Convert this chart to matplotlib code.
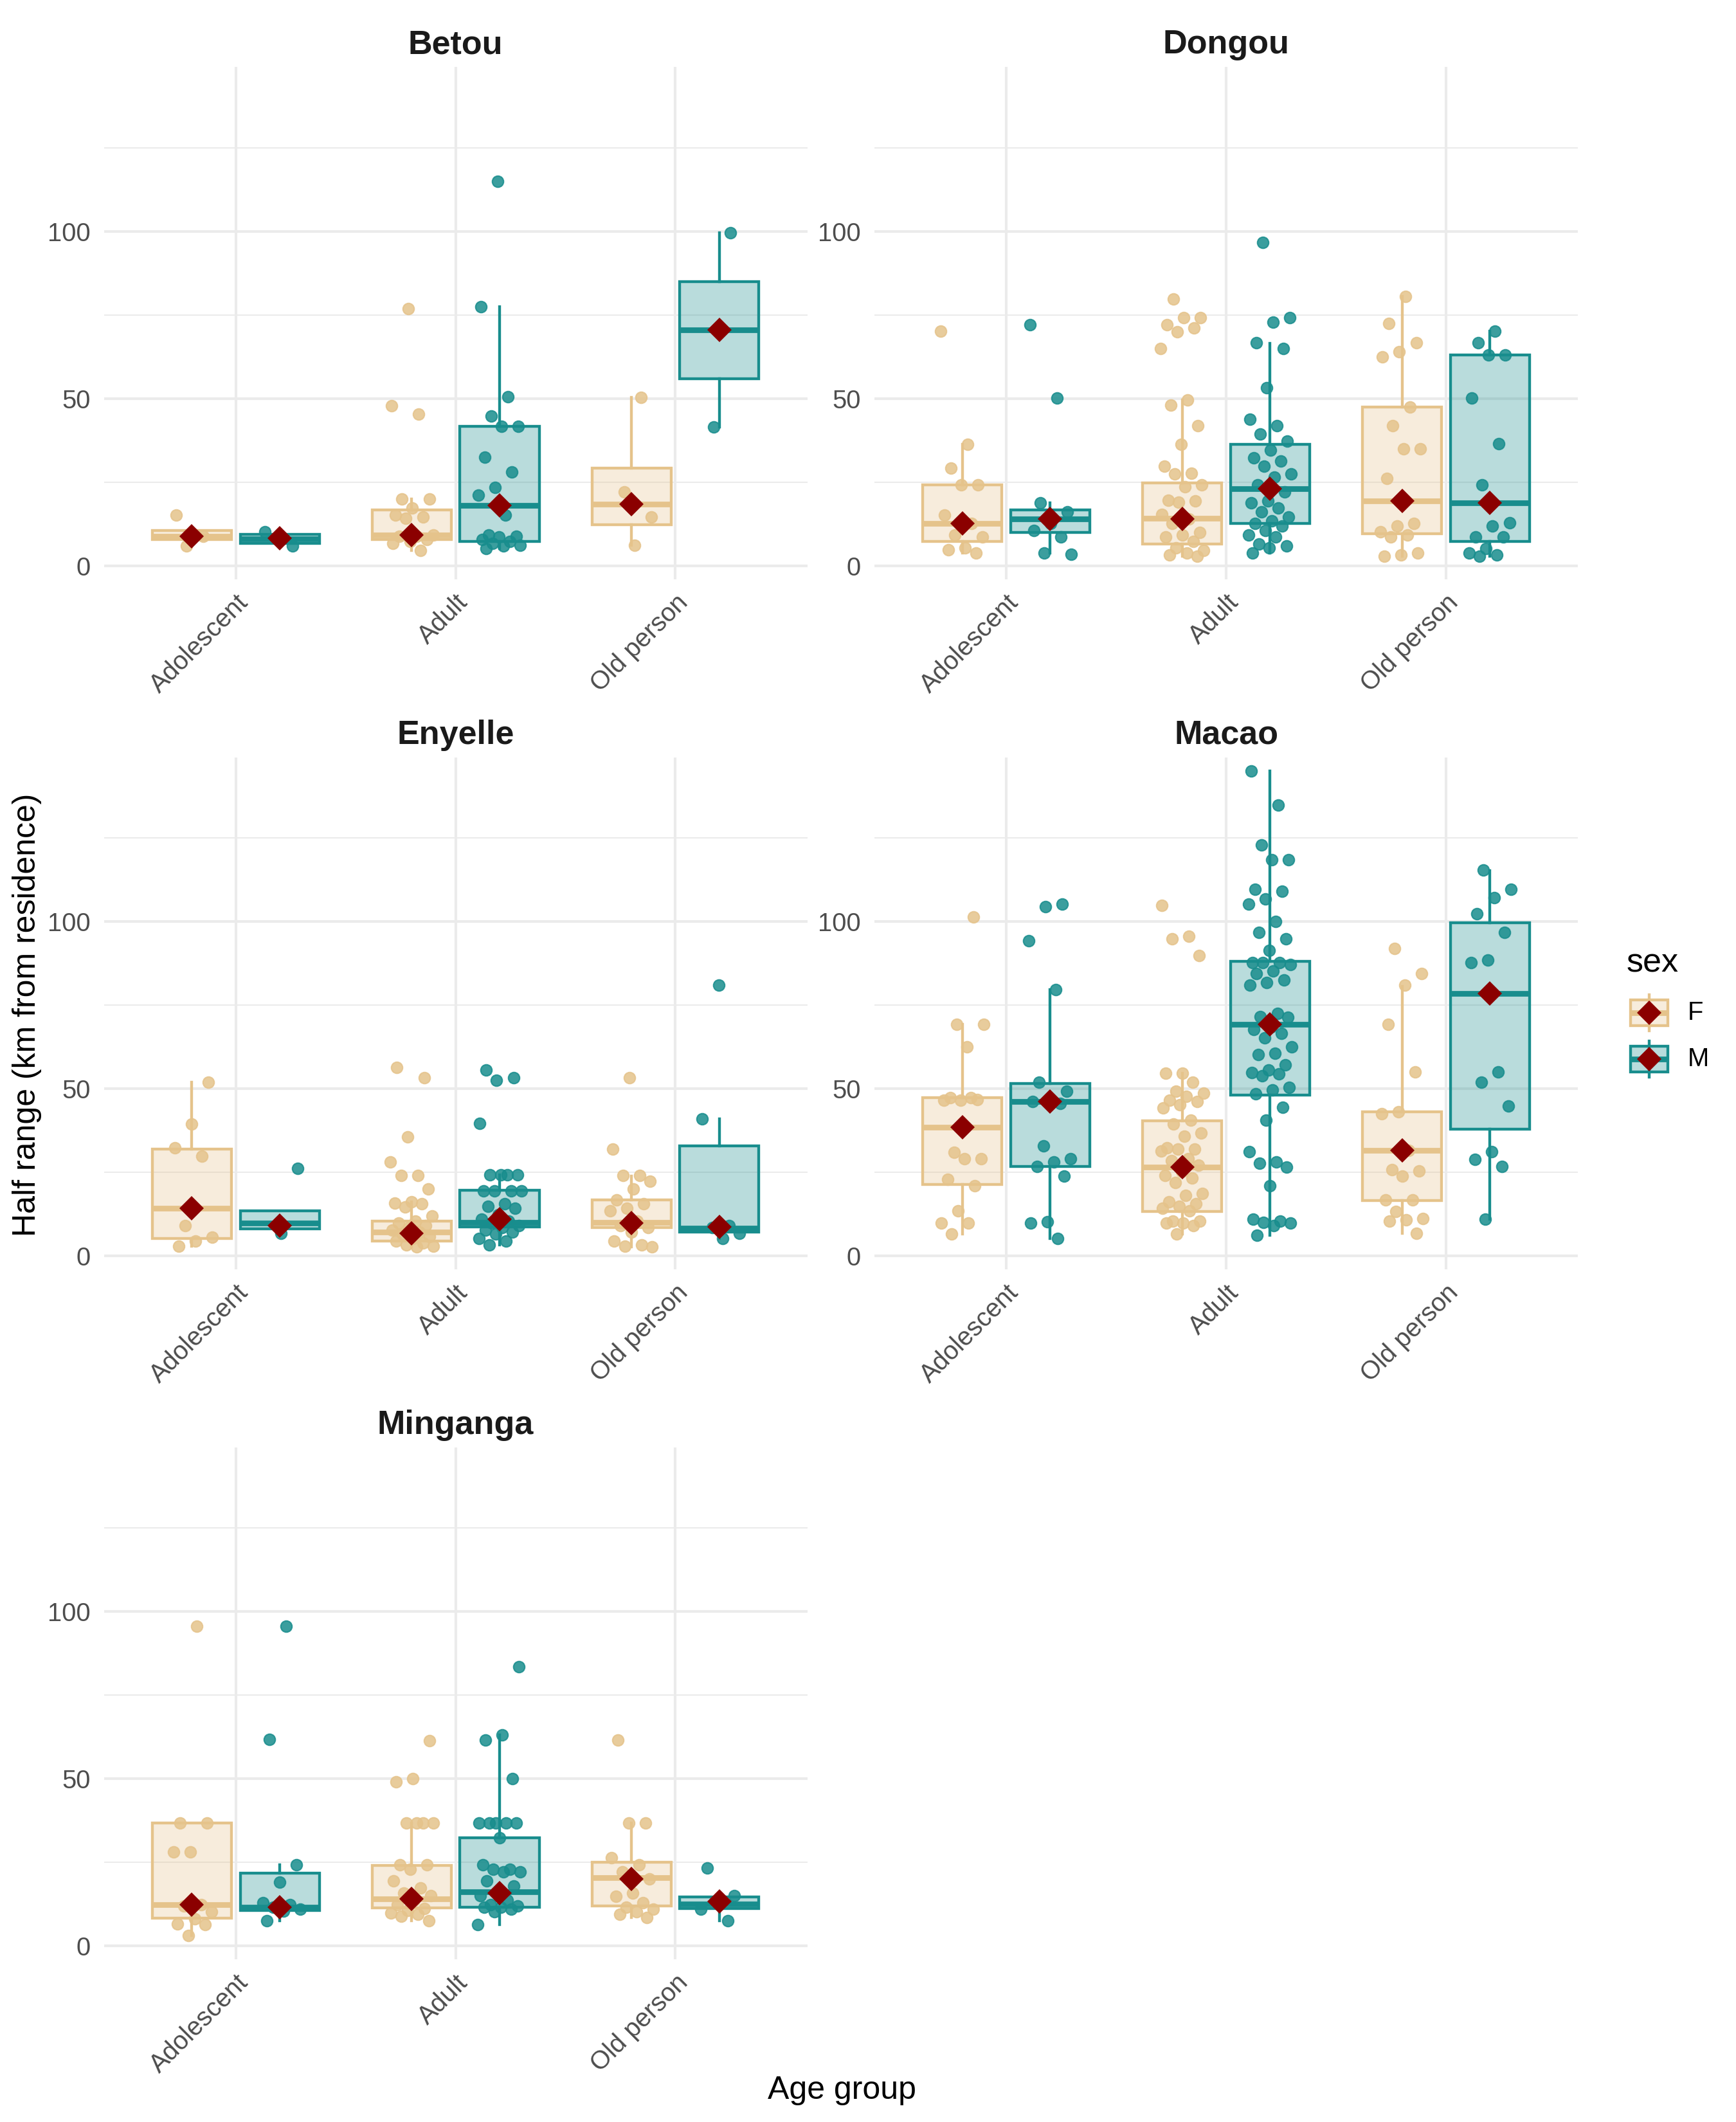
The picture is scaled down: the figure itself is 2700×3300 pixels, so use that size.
import numpy as np
import matplotlib.pyplot as plt
from matplotlib.colors import to_rgba
from matplotlib.patches import Rectangle
from matplotlib.transforms import ScaledTranslation

plt.rcParams['font.family'] = ['Liberation Sans', 'DejaVu Sans']

age_groups = ["Adolescent", "Adult", "Old person"]
sites = ["Betou", "Dongou", "Enyelle", "Macao", "Minganga"]

# --- jittered points, one list per age group ---
betou_f = [[15.2, 8.8, 5.8],
           [76.9, 47.8, 45.3, 20.0, 20.0, 17.3, 15.2, 14.6, 14.2, 9.2, 8.8, 8.8, 7.8, 7.2, 6.6, 4.5],
           [50.3, 22.0, 14.6, 6.1]]
betou_m = [[10.1, 5.8],
           [115.0, 77.5, 50.5, 44.8, 41.7, 41.7, 32.5, 28.1, 23.4, 21.1, 15.2, 9.2, 8.8, 8.5, 7.8, 7.2, 6.6, 6.1, 5.8, 5.1],
           [99.5, 41.5]]
dongou_f = [[70.1, 36.3, 29.1, 24.1, 24.1, 15.2, 12.6, 9.2, 8.5, 5.4, 4.7, 3.8],
            [79.8, 74.2, 74.2, 72.1, 71.2, 70.0, 65.0, 49.5, 48.0, 41.9, 36.3, 29.8, 27.7, 27.5, 24.1, 23.6,
             19.6, 19.4, 19.0, 15.3, 13.9, 12.6, 9.9, 9.2, 8.5, 7.2, 5.4, 4.5, 3.8, 3.1, 2.9],
            [80.6, 72.4, 66.7, 64.0, 62.4, 47.5, 41.9, 34.9, 34.9, 26.1, 12.6, 11.9, 10.1, 9.2, 8.5, 3.8, 3.1, 2.9]]
dongou_m = [[72.1, 50.1, 18.7, 16.0, 12.6, 10.6, 8.5, 3.8, 3.4],
            [96.8, 74.2, 72.8, 66.7, 65.0, 53.2, 43.7, 41.9, 39.4, 37.2, 34.5, 32.2, 31.3, 29.8, 27.5, 26.4,
             24.1, 22.0, 19.4, 18.7, 17.3, 16.0, 14.6, 13.3, 12.6, 11.9, 10.6, 9.2, 8.5, 6.5, 5.8, 5.4, 3.8],
            [70.1, 66.7, 63.1, 63.1, 50.2, 36.5, 24.1, 12.9, 11.9, 8.5, 8.5, 5.1, 3.8, 3.1, 2.9]]
enyelle_f = [[51.9, 39.4, 32.3, 29.9, 9.0, 5.5, 4.5, 2.8],
             [56.4, 53.3, 35.5, 28.0, 24.1, 24.1, 20.0, 16.1, 15.8, 15.5, 14.6, 12.0, 10.3, 9.7, 9.0, 8.4,
              7.7, 7.1, 6.5, 5.8, 5.2, 4.5, 3.9, 3.2, 2.8, 2.6],
             [53.2, 31.9, 24.1, 24.1, 22.3, 20.0, 16.8, 15.5, 14.2, 13.5, 10.3, 9.0, 8.4, 7.1, 4.5, 3.2, 2.8, 2.6]]
enyelle_m = [[26.2, 6.8],
             [55.5, 53.3, 52.5, 39.6, 24.3, 24.3, 24.3, 24.3, 19.4, 19.4, 19.4, 19.4, 15.5, 14.8, 14.2, 12.2,
              11.0, 10.3, 9.7, 9.0, 8.4, 7.7, 7.1, 6.5, 5.2, 4.5, 3.2],
             [80.9, 40.9, 9.0, 8.4, 6.8, 5.2]]
macao_f = [[101.3, 69.3, 69.3, 62.6, 47.4, 46.8, 46.5, 46.5, 47.4, 31.0, 29.0, 29.0, 22.8, 20.9, 13.5, 9.7, 9.7, 6.5],
           [104.9, 95.7, 94.8, 89.9, 54.6, 54.6, 52.0, 49.3, 48.6, 47.7, 46.5, 46.1, 45.2, 44.3, 40.6, 39.4,
            36.8, 35.7, 32.3, 31.9, 31.9, 31.4, 29.0, 28.4, 27.1, 25.2, 24.1, 23.2, 21.9, 18.7, 18.1, 16.1,
            15.5, 14.8, 14.2, 13.5, 10.3, 10.3, 9.7, 9.7, 9.0, 6.5],
           [91.9, 84.5, 80.9, 69.3, 55.1, 43.0, 42.6, 31.6, 25.8, 25.4, 23.9, 16.8, 16.8, 13.2, 11.2, 10.7, 10.3, 6.8]]
macao_m = [[105.2, 104.5, 94.2, 79.6, 52.0, 49.3, 46.2, 46.2, 45.6, 32.9, 29.0, 28.0, 26.7, 23.9, 10.1, 9.7, 5.2],
           [145.0, 134.8, 123.0, 118.5, 118.5, 109.7, 109.0, 106.8, 105.2, 100.0, 96.8, 94.8, 91.4, 87.7, 87.7,
            87.7, 87.1, 85.2, 84.5, 82.6, 81.7, 80.9, 72.6, 71.6, 71.3, 68.4, 67.7, 66.5, 65.2, 62.6, 60.6,
            60.2, 57.2, 55.5, 54.8, 54.4, 53.8, 50.3, 49.7, 48.4, 44.5, 40.6, 31.2, 28.0, 27.7, 26.5, 20.9,
            11.0, 10.3, 10.0, 9.7, 9.0, 6.1],
           [115.5, 109.7, 107.1, 102.3, 96.8, 88.4, 87.7, 55.1, 52.0, 44.8, 31.2, 28.8, 26.7, 11.0]]
minganga_f = [[95.6, 36.8, 36.8, 28.1, 28.1, 12.3, 12.0, 10.2, 8.1, 6.6, 6.4, 3.1],
              [61.4, 50.1, 49.1, 36.8, 36.8, 36.8, 36.8, 24.3, 24.3, 22.9, 19.4, 17.3, 15.8, 15.1, 13.7, 12.3,
               11.2, 10.6, 9.9, 9.5, 8.8, 7.6],
              [61.5, 36.8, 36.8, 26.4, 24.3, 22.2, 20.1, 15.8, 14.9, 13.0, 11.6, 10.9, 10.2, 9.5, 8.5]]
minganga_m = [[95.6, 61.7, 24.3, 19.1, 13.0, 12.3, 11.6, 10.9, 10.5, 7.6],
              [83.5, 63.2, 61.5, 50.1, 36.8, 36.8, 36.8, 36.8, 36.8, 32.4, 24.3, 22.9, 22.9, 22.2, 22.2, 19.4,
               18.0, 15.8, 15.1, 13.7, 12.3, 12.0, 11.6, 11.6, 10.9, 10.2, 6.4],
              [23.3, 15.1, 13.7, 10.9, 7.6]]

# --- box stats: (lower whisker, q1, median, q3, upper whisker) ---
betou_f_box = [(7.9, 7.9, 8.8, 10.5, 10.5), (4.5, 7.8, 9.2, 16.6, 20.0), (6.1, 12.3, 18.3, 29.1, 50.3)]
betou_m_box = [(6.7, 6.7, 8.0, 9.4, 9.4), (5.1, 7.2, 18.0, 41.7, 77.5), (41.5, 55.9, 70.5, 85.0, 99.5)]
dongou_f_box = [(3.8, 7.2, 12.6, 24.1, 36.3), (2.9, 6.5, 14.2, 24.8, 49.5), (2.9, 9.5, 19.4, 47.5, 80.6)]
dongou_m_box = [(3.8, 9.9, 13.9, 16.6, 18.7), (3.8, 12.6, 23.0, 36.3, 66.5), (2.9, 7.2, 18.7, 63.1, 70.1)]
enyelle_f_box = [(2.8, 5.2, 14.2, 31.9, 51.9), (2.6, 4.5, 7.1, 10.3, 16.1), (2.6, 8.4, 9.9, 16.8, 23.9)]
enyelle_m_box = [(8.0, 8.0, 9.7, 13.5, 13.5), (3.2, 8.6, 9.9, 19.7, 24.3), (5.2, 7.1, 8.2, 32.9, 40.9)]
macao_f_box = [(6.5, 21.3, 38.5, 47.4, 69.3), (6.5, 13.3, 26.5, 40.4, 54.6), (6.8, 16.5, 31.6, 43.0, 80.6)]
macao_m_box = [(5.2, 26.7, 46.2, 51.6, 79.6), (6.1, 48.1, 69.3, 88.1, 145.0), (11.0, 37.8, 78.5, 99.6, 115.2)]
minganga_f_box = [(3.1, 8.3, 12.3, 36.8, 36.8), (7.6, 11.3, 14.0, 24.0, 36.8), (8.5, 11.9, 20.4, 25.0, 36.8)]
minganga_m_box = [(7.6, 10.6, 11.6, 21.8, 24.3), (6.4, 11.6, 16.1, 32.4, 63.2), (7.6, 11.2, 12.6, 14.7, 15.1)]

# --- means (diamonds) ---
betou_f_mean = [8.8, 9.2, 18.3]
betou_m_mean = [8.1, 18.0, 70.5]
dongou_f_mean = [12.6, 13.9, 19.4]
dongou_m_mean = [13.9, 23.0, 18.7]
enyelle_f_mean = [14.2, 6.8, 9.7]
enyelle_m_mean = [9.0, 11.0, 8.6]
macao_f_mean = [38.5, 26.5, 31.6]
macao_m_mean = [46.2, 69.3, 78.5]
minganga_f_mean = [12.3, 14.0, 20.1]
minganga_m_mean = [11.6, 15.8, 13.3]

panels = {
    "Betou": (betou_f, betou_m, betou_f_box, betou_m_box, betou_f_mean, betou_m_mean),
    "Dongou": (dongou_f, dongou_m, dongou_f_box, dongou_m_box, dongou_f_mean, dongou_m_mean),
    "Enyelle": (enyelle_f, enyelle_m, enyelle_f_box, enyelle_m_box, enyelle_f_mean, enyelle_m_mean),
    "Macao": (macao_f, macao_m, macao_f_box, macao_m_box, macao_f_mean, macao_m_mean),
    "Minganga": (minganga_f, minganga_m, minganga_f_box, minganga_m_box, minganga_f_mean, minganga_m_mean),
}

col_f = "#E5C38B"
col_m = "#188D8D"
col_mean = "#8B0000"
grid_col = "#EBEBEB"
DODGE = 0.2
BOXW = 0.36
JIT = 0.1

fig = plt.figure(figsize=(9, 11), dpi=300)
W, H = 2700, 3300
lefts = [161.6, 1360.0]
bottoms = [900.9, 1974.2, 3047.4]
aw, ah = 1094.0, 796.7


def jitter(n, k):
    # deterministic spread inside +-JIT
    u = (np.arange(n) * 0.618034 + 0.137 + 0.29 * k) % 1.0
    return (u - 0.5) * 2 * JIT


def draw_group(ax, pts, box, mean, color, shift, k0):
    x = np.arange(1, 4) + shift
    stats = [dict(whislo=b[0], q1=b[1], med=b[2], q3=b[3], whishi=b[4], fliers=[]) for b in box]
    ax.bxp(stats, positions=x, widths=BOXW, patch_artist=True, showfliers=False, showcaps=False,
           manage_ticks=False,
           boxprops=dict(facecolor=to_rgba(color, 0.3), edgecolor=color, linewidth=1.05),
           whiskerprops=dict(color=color, linewidth=1.05),
           medianprops=dict(color=color, linewidth=2.1, solid_capstyle='butt'),
           zorder=2)
    for i, p in enumerate(pts):
        xs = x[i] + jitter(len(p), k0 + i)
        ax.plot(xs, p, 'o', color=color, alpha=0.85, markersize=4.2, markeredgewidth=0.5, zorder=3)
    ax.plot(x, mean, 'D', color=col_mean, markersize=6.3, markeredgewidth=0, zorder=4)


nudge = ScaledTranslation(4 / 300, -2 / 300, fig.dpi_scale_trans)

for idx, site in enumerate(sites):
    r, c = divmod(idx, 2)
    ax = fig.add_axes([lefts[c] / W, 1 - bottoms[r] / H, aw / W, ah / H])
    f_pts, m_pts, f_box, m_box, f_mean, m_mean = panels[site]
    draw_group(ax, f_pts, f_box, f_mean, col_f, -DODGE, idx * 3)
    draw_group(ax, m_pts, m_box, m_mean, col_m, DODGE, idx * 3 + 7)

    ax.set_xlim(0.4, 3.6)
    ax.set_ylim(-4.1, 149.2)
    ax.set_xticks([1, 2, 3])
    ax.set_xticklabels(age_groups, rotation=45, ha='right', va='top', rotation_mode='anchor')
    for lab in ax.get_xticklabels():
        lab.set_transform(lab.get_transform() + nudge)
    ax.set_yticks([0, 50, 100])
    ax.set_yticks([25, 75, 125], minor=True)
    ax.grid(True, which='major', color=grid_col, linewidth=1.0)
    ax.grid(True, which='minor', axis='y', color=grid_col, linewidth=0.5)
    ax.set_axisbelow(True)
    for s in ax.spines.values():
        s.set_visible(False)
    ax.tick_params(which='both', length=0, labelsize=9.6, labelcolor='#4D4D4D')
    ax.tick_params(axis='y', pad=5)
    ax.tick_params(axis='x', pad=4)
    ax.set_title(site, fontsize=12.5, fontweight='bold', color='#1A1A1A', pad=5)

fig.text(42 / W, 1 - 1578 / H, "Half range (km from residence)", rotation=90,
         ha='center', va='center', fontsize=12)
fig.text(1309 / W, 1 - 3251 / H, "Age group", ha='center', va='center', fontsize=12)

# --- legend drawn by hand in pixel coordinates ---
lg = fig.add_axes([0, 0, 1, 1])
lg.set_xlim(0, W)
lg.set_ylim(H, 0)
lg.set_axis_off()
lg.text(2530, 1498, "sex", ha='left', va='center', fontsize=12.5)
for lab, color, cy in [("F", col_f, 1575), ("M", col_m, 1647)]:
    lg.plot([2565, 2565], [cy - 28, cy + 28], color=color, linewidth=1.05, zorder=1)
    lg.add_patch(Rectangle((2536, cy - 20), 58, 40, facecolor=to_rgba(color, 0.3),
                           edgecolor=color, linewidth=1.05, zorder=2))
    lg.plot([2536, 2594], [cy, cy], color=color, linewidth=2.1, solid_capstyle='butt', zorder=3)
    lg.plot([2565], [cy], 'D', color=col_mean, markersize=6.3, markeredgewidth=0, zorder=4)
    lg.text(2625, cy, lab, ha='left', va='center', fontsize=9.6)

fig.savefig("out.png", dpi=300)
